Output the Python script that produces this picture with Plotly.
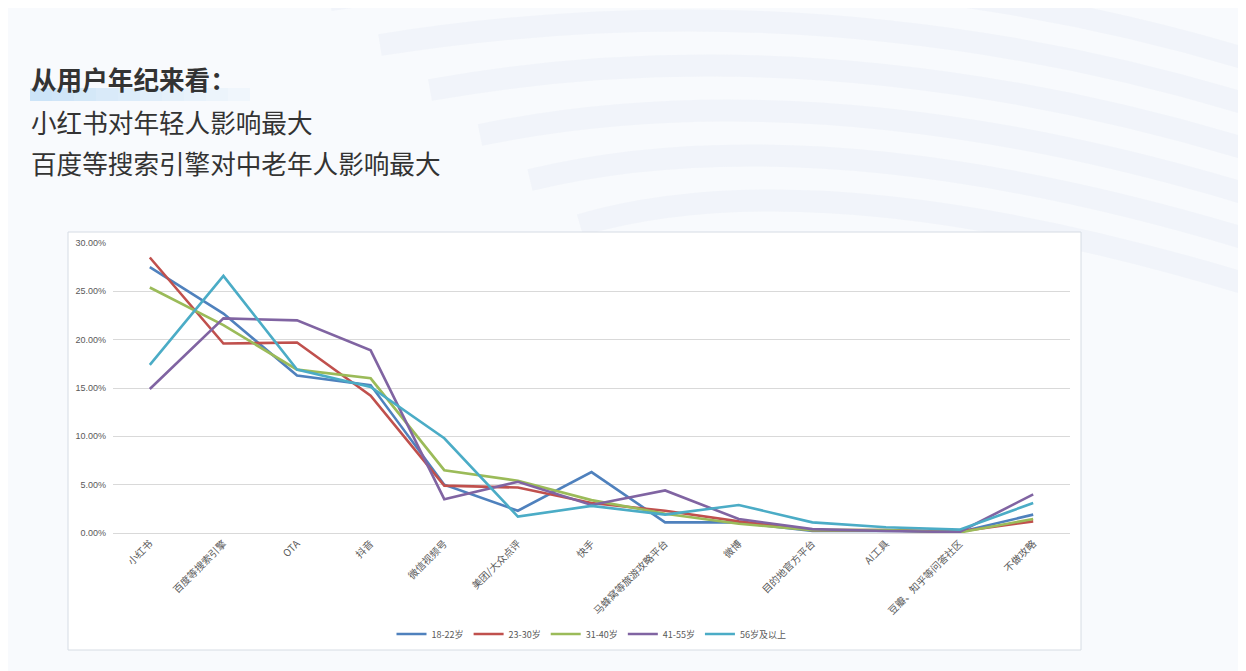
import plotly.graph_objects as go

categories = ["小红书", "百度等搜索引擎", "OTA", "抖音", "微信视频号", "美团/大众点评", "快手",
              "马蜂窝等旅游攻略平台", "微博", "目的地官方平台", "AI工具", "豆瓣、知乎等问答社区", "不做攻略"]
series_names = ["18-22岁", "23-30岁", "31-40岁", "41-55岁", "56岁及以上"]
s18_22 = [27.5, 22.7, 16.3, 15.3, 5.0, 2.3, 6.3, 1.1, 1.1, 0.2, 0.25, 0.1, 1.9]
s23_30 = [28.5, 19.6, 19.7, 14.2, 4.9, 4.7, 3.1, 2.3, 1.2, 0.3, 0.3, 0.15, 1.2]
s31_40 = [25.4, 21.5, 16.9, 16.0, 6.5, 5.4, 3.4, 2.0, 0.95, 0.3, 0.3, 0.05, 1.45]
s41_55 = [14.9, 22.2, 22.0, 18.9, 3.5, 5.3, 2.9, 4.4, 1.45, 0.4, 0.2, 0.1, 4.0]
s56_up = [17.4, 26.6, 16.9, 15.1, 9.8, 1.7, 2.8, 1.9, 2.9, 1.1, 0.6, 0.35, 3.1]
yticks = [0, 0.05, 0.10, 0.15, 0.20, 0.25, 0.30]

colors = ["#4F81BD", "#C0504D", "#9BBB59", "#8064A2", "#4BACC6"]
all_series = [s18_22, s23_30, s31_40, s41_55, s56_up]

OFF = 8  # page body margin
W, H = 1246 - OFF, 671 - OFF
L, R, T, B = 113 - OFF, 1070 - OFF, 243 - OFF, 533 - OFF

def px(x):
    return (x - OFF - L) / (R - L)

def py(y):
    return (B - (y - OFF)) / (B - T)

fig = go.Figure()
for name, vals, c in zip(series_names, all_series, colors):
    fig.add_trace(go.Scatter(
        x=categories, y=[v / 100 for v in vals], name=name, mode="lines",
        line=dict(color=c, width=2.6), hovertemplate="%{x}: %{y:.2%}<extra>" + name + "</extra>"))

shapes = []
# decorative background bands (soft)
for i, yy in enumerate([10, 55, 100, 145, 190, 235]):
    shapes.append(dict(type="path", xref="paper", yref="paper",
                       path=f"M {px(330+i*50)},{py(yy-10)} Q {px(820)},{py(yy-80)} {px(1250)},{py(yy+50)}",
                       line=dict(color="rgba(232,238,246,0.45)", width=22), layer="below"))
# title highlight (fading)
for k in range(10):
    shapes.append(dict(type="rect", xref="paper", yref="paper",
                       x0=px(30 + k * 22), x1=px(52 + k * 22), y0=py(101), y1=py(88),
                       fillcolor="rgba(185,218,245,%.2f)" % (0.7 - k * 0.065), line=dict(width=0), layer="below"))
# chart white box
shapes.append(dict(type="rect", xref="paper", yref="paper",
                   x0=px(68), x1=px(1081), y0=py(650), y1=py(232),
                   fillcolor="white", line=dict(color="#d6dce4", width=1), layer="below"))

tfont = dict(size=25.6, color="#333333", family="Noto Sans CJK SC")
annotations = [
    dict(text="<b>从用户年纪来看：</b>", x=px(29), y=py(78), xref="paper", yref="paper",
         xanchor="left", yanchor="middle", showarrow=False, font=tfont),
    dict(text="小红书对年轻人影响最大", x=px(29), y=py(122), xref="paper", yref="paper",
         xanchor="left", yanchor="middle", showarrow=False, font=tfont),
    dict(text="百度等搜索引擎对中老年人影响最大", x=px(29), y=py(163), xref="paper", yref="paper",
         xanchor="left", yanchor="middle", showarrow=False, font=tfont),
]

fig.update_layout(
    width=W, height=H,
    margin=dict(l=L, r=W - R, t=T, b=H - B, pad=0),
    paper_bgcolor="#f8fafd", plot_bgcolor="white",
    shapes=shapes, annotations=annotations,
    showlegend=True,
    legend=dict(orientation="h", x=0.5, xanchor="center", y=py(634), yanchor="middle",
                font=dict(size=9, color="#595959", family="Noto Sans CJK SC"),
                bgcolor="rgba(0,0,0,0)", itemwidth=30, tracegroupgap=0),
    font=dict(family="Noto Sans CJK SC", color="#595959"),
)
fig.update_xaxes(type="category", tickangle=-45, showgrid=False, showline=True,
                 linecolor="#d9d9d9", linewidth=1, ticks="",
                 tickfont=dict(size=10, color="#595959", family="Noto Sans CJK SC"),
                 range=[-0.5, len(categories) - 0.5])
fig.update_yaxes(range=[0, 0.30], tickvals=yticks, tickformat=".2%", showgrid=True,
                 gridcolor="#d9d9d9", gridwidth=1, zeroline=False, showline=False,
                 tickfont=dict(size=9, color="#595959", family="Liberation Sans"),
                 ticklabelstandoff=6)

fig.write_html("out.html")
